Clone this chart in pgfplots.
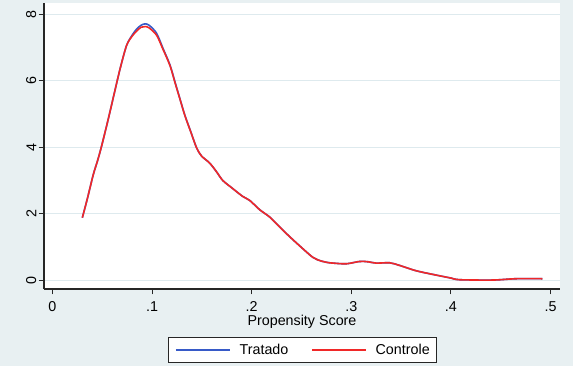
\documentclass[border=0pt]{standalone}
\usepackage{pgfplots}
\pgfplotsset{compat=1.18}
\usepackage{fontspec}
\setmainfont{Liberation Sans}
\definecolor{bgc}{RGB}{232,240,242}
\definecolor{gridc}{RGB}{222,234,238}
\definecolor{tblue}{RGB}{55,90,200}
\definecolor{cred}{RGB}{240,40,40}
\newcommand{\fs}{\fontsize{14.3}{17}\selectfont}
\begin{document}
\begin{tikzpicture}
\fill[bgc] (0,0) rectangle (573pt,366pt);
\begin{axis}[
  at={(44pt,77pt)}, anchor=south west,
  width=516pt, height=286pt, scale only axis,
  xmin=-0.0085, xmax=0.5095, ymin=-0.27, ymax=8.35,
  axis background/.style={fill=white},
  axis x line*=bottom, axis y line*=left,
  axis line style={line width=1.1pt, color=black!85, -},
  tick align=outside, major tick length=5.5pt,
  tick style={line width=1pt, color=black!85},
  xtick={0,0.1,0.2,0.3,0.4,0.5},
  xticklabels={0,.1,.2,.3,.4,.5},
  ytick={0,2,4,6,8},
  ymajorgrids, grid style={gridc, line width=1pt},
  /pgf/number format/assume math mode=true,
  ticklabel style={font=\fs},
  yticklabel style={rotate=90, anchor=south, inner sep=2pt},
  xticklabel style={inner sep=2pt, yshift=-5pt},
  xlabel={Propensity Score},
  xlabel style={font=\fs, inner sep=0pt, at={(0.5,-0.113)}, anchor=center},
  legend columns=2,
  legend style={at={(0.501,-0.213)}, anchor=center, draw=black!85, fill=white,
    font=\fs, line width=0.9pt, inner xsep=7pt, inner ysep=4.5pt,
    nodes={inner xsep=0pt},
    /tikz/every odd column/.append style={column sep=9pt},
    /tikz/every even column/.append style={column sep=23pt}},
  legend image code/.code={\draw[#1, line width=1.3pt] (0pt,0pt) -- (54pt,0pt);},
]
\addplot[tblue, line width=1.6pt, smooth] coordinates {
(0.030,1.88) (0.035,2.45) (0.041,3.18) (0.045,3.57) (0.049,4.00) (0.056,4.85)
(0.062,5.62) (0.068,6.38) (0.0744,7.07) (0.080,7.38) (0.0844,7.56) (0.089,7.68)
(0.093,7.72) (0.097,7.68) (0.1045,7.44) (0.111,6.98) (0.118,6.48) (0.123,5.97)
(0.128,5.46) (0.133,4.96) (0.139,4.46) (0.1446,3.99) (0.1496,3.74) (0.158,3.52)
(0.165,3.25) (0.171,3.00) (0.180,2.78) (0.191,2.52) (0.198,2.40) (0.208,2.12)
(0.218,1.90) (0.228,1.60) (0.238,1.31) (0.250,0.98) (0.2616,0.68) (0.270,0.57)
(0.278,0.52) (0.2816,0.51) (0.295,0.49) (0.3084,0.56) (0.317,0.55) (0.325,0.51)
(0.3385,0.52) (0.3485,0.44) (0.365,0.28) (0.385,0.15) (0.400,0.06) (0.4087,0.01)
(0.442,0.0) (0.4656,0.04) (0.4917,0.04)
};
\addlegendentry{Tratado}
\addplot[cred, line width=1.6pt, smooth] coordinates {
(0.030,1.88) (0.035,2.45) (0.041,3.18) (0.045,3.57) (0.049,4.00) (0.056,4.85)
(0.062,5.62) (0.068,6.38) (0.0744,7.07) (0.080,7.35) (0.0844,7.50) (0.089,7.62)
(0.093,7.64) (0.097,7.60) (0.1045,7.38) (0.111,6.95) (0.118,6.46) (0.123,5.95)
(0.128,5.45) (0.133,4.95) (0.139,4.45) (0.1446,3.99) (0.1496,3.74) (0.158,3.52)
(0.165,3.25) (0.171,3.00) (0.180,2.78) (0.191,2.52) (0.198,2.40) (0.208,2.12)
(0.218,1.90) (0.228,1.60) (0.238,1.31) (0.250,0.98) (0.2616,0.68) (0.270,0.57)
(0.278,0.52) (0.2816,0.51) (0.295,0.49) (0.3084,0.56) (0.317,0.55) (0.325,0.51)
(0.3385,0.52) (0.3485,0.44) (0.365,0.28) (0.385,0.15) (0.400,0.06) (0.4087,0.01)
(0.442,0.0) (0.4656,0.04) (0.4917,0.04)
};
\addlegendentry{Controle}
\end{axis}
\end{tikzpicture}
\end{document}
